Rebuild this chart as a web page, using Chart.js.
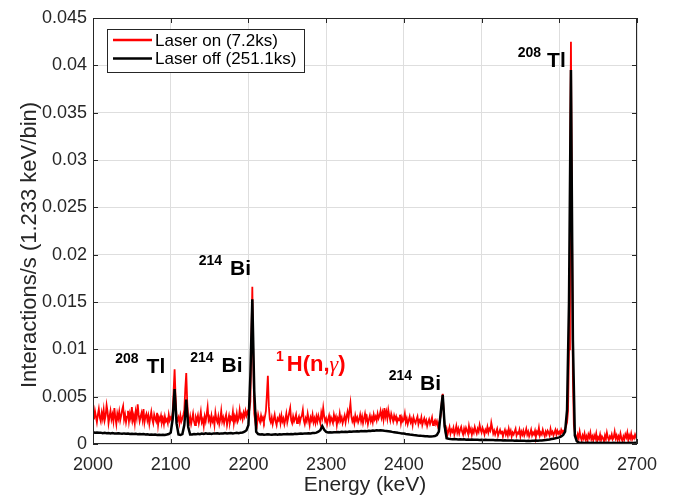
<!DOCTYPE html>
<html>
<head>
<meta charset="utf-8">
<script src="https://cdn.jsdelivr.net/npm/chart.js@4.4.1/dist/chart.umd.min.js"></script>
<style>
html,body{margin:0;padding:0;background:#ffffff;}
#wrap{width:673px;height:498px;position:relative;}
</style>
</head>
<body>
<div id="wrap"><canvas id="c" width="673" height="498"></canvas></div>
<script>
// ---------- DATA ----------
const energyStart = 2000;   // keV, first sample
const onStep = 1.25;        // keV between samples of the laser-on series
const offStep = 2.5;        // keV between samples of the laser-off series
const UNIT = 1e-3;          // series below are in units of 1e-3 interactions/s

const seriesLabels = ['Laser on (7.2ks)', 'Laser off (251.1ks)'];

// Laser on (red), x1e-3, 2000 .. 2700 keV every 1.25 keV
const laserOn = [
  // 2000 - 2101.25
  3.2, 2.6, 3.5, 2.9, 2.3, 3.1, 3.7, 2.8, 2.4, 3.3,
  2.7, 3.6, 2.5, 3.0, 4.1, 3.4, 2.2, 2.9, 3.5, 2.6,
  3.1, 2.4, 3.8, 2.8, 2.1, 3.2, 2.7, 3.4, 2.5, 3.0,
  3.6, 4.0, 2.6, 3.1, 2.3, 2.9, 3.5, 2.4, 3.2, 2.7,
  3.9, 2.5, 3.0, 2.2, 3.4, 2.8, 4.2, 3.1, 2.4, 2.9,
  3.3, 2.6, 3.7, 2.3, 2.9, 3.2, 2.5, 3.0, 2.1, 2.8,
  3.4, 2.6, 2.2, 3.1, 2.7, 2.4, 3.3, 2.0, 2.8, 2.5,
  3.0, 2.3, 2.7, 2.1, 2.9, 2.4, 2.6, 2.2, 3.1, 2.5,
  2.8, 2.6,
  // 2102.5 - 2107.5 (208Tl escape)
  3.4, 5.6, 7.9, 5.0, 2.9,
  // 2108.75 - 2116.25
  2.5, 2.8, 2.2, 3.0, 2.4, 2.7, 3.1,
  // 2117.5 - 2122.5 (214Bi)
  3.6, 5.8, 7.5, 4.4, 2.8,
  // 2123.75 - 2201.25
  2.3, 2.9, 2.1, 2.6, 3.2, 2.4, 2.0, 2.8, 2.5, 3.0,
  2.2, 2.7, 3.4, 2.3, 2.6, 1.9, 2.9, 2.4, 3.1, 3.9,
  2.5, 2.8, 2.2, 3.0, 2.4, 2.7, 2.0, 3.3, 2.6, 2.3,
  2.9, 2.1, 2.6, 3.5, 2.4, 2.8, 2.2, 2.7, 3.1, 2.0,
  2.5, 3.0, 2.3, 2.8, 2.6, 3.4, 2.2, 2.9, 2.5, 3.2,
  2.4, 2.7, 3.6, 2.8, 3.1, 2.6, 3.3, 2.9, 3.5, 3.0,
  3.4, 3.1, 3.6,
  // 2202.5 - 2207.5 (214Bi)
  4.5, 10.5, 16.6, 9.0, 3.2,
  // 2208.75 - 2221.25
  2.4, 2.9, 2.2, 3.1, 2.6, 2.3, 3.0, 2.5, 2.8, 2.4, 2.9,
  // 2222.5 - 2227.5 (1H(n,g))
  3.5, 5.2, 7.2, 4.0, 2.6,
  // 2228.75 - 2446.25
  2.3, 2.8, 2.1, 2.6, 3.1, 2.4, 2.0, 2.7, 2.5, 2.9,
  2.2, 3.0, 2.4, 2.7, 2.1, 2.6, 3.2, 2.3, 2.8, 3.3,
  3.8, 2.5, 2.2, 2.9, 2.4, 2.7, 3.1, 2.2, 2.6, 2.9,
  2.3, 2.8, 3.0, 3.6, 2.5, 2.1, 2.7, 2.4, 3.2, 2.6,
  2.0, 2.8, 2.5, 3.1, 2.3, 2.7, 2.2, 2.9, 2.4, 3.0,
  2.6, 2.2, 3.3, 2.8, 3.8, 2.9, 2.4, 2.7, 2.1, 2.6,
  3.0, 2.3, 2.8, 2.5, 2.2, 3.1, 2.6, 2.9, 2.0, 2.7,
  2.4, 3.2, 2.5, 2.8, 2.2, 2.6, 3.0, 2.3, 2.9, 3.4,
  2.7, 3.5, 4.3, 2.9, 2.4, 2.7, 2.2, 3.0, 2.5, 2.8,
  2.3, 2.6, 3.1, 2.4, 2.9, 2.2, 2.7, 3.2, 2.5, 2.8,
  2.1, 2.6, 3.0, 2.4, 2.8, 2.3, 3.1, 2.6, 2.9, 2.5,
  3.2, 2.7, 3.0, 3.5, 2.8, 3.3, 2.6, 3.8, 2.9, 3.4,
  2.7, 3.6, 3.0, 2.5, 3.2, 2.8, 2.4, 3.0, 2.6, 2.9,
  2.3, 2.7, 2.5, 3.1, 2.2, 2.8, 2.4, 2.6, 3.2, 2.3,
  2.7, 2.1, 2.5, 2.9, 2.3, 2.6, 2.0, 2.8, 2.4, 2.2,
  2.6, 2.9, 2.1, 2.5, 2.3, 2.8, 2.0, 2.4, 2.7, 2.2,
  2.5, 1.9, 2.3, 2.6, 2.1, 2.4, 2.8, 2.0, 2.3, 2.5,
  2.1, 2.4, 1.9, 2.2, 2.5,
  // 2447.5 - 2452.5 (214Bi)
  3.0, 4.4, 5.3, 3.4, 1.8,
  // 2453.75 - 2610
  1.2, 1.6, 1.0, 1.4, 1.8, 1.1, 1.5, 1.3, 1.7, 1.0,
  1.4, 1.9, 1.2, 1.6, 1.1, 1.5, 1.8, 1.3, 1.0, 1.6,
  1.2, 1.7, 1.4, 1.1, 1.9, 1.3, 1.6, 1.0, 1.5, 1.2,
  1.8, 1.4, 1.1, 1.6, 1.3, 2.0, 1.5, 1.2, 1.7, 1.4,
  1.0, 1.5, 1.3, 1.8, 1.2, 1.6, 1.4, 2.25, 1.7, 1.1,
  1.4, 1.0, 1.3, 1.6, 0.9, 1.2, 1.5, 1.1, 1.4, 0.8,
  1.2, 1.5, 1.0, 1.3, 0.9, 1.6, 1.1, 1.4, 0.8, 1.2,
  1.0, 1.3, 1.6, 0.9, 1.2, 1.1, 1.5, 0.8, 1.3, 1.0,
  1.4, 0.9, 1.2, 1.6, 1.0, 1.3, 0.8, 1.1, 1.5, 0.9,
  1.2, 1.0, 1.4, 0.8, 1.3, 1.1, 1.7, 0.9, 1.2, 1.0,
  1.5, 1.1, 0.8, 1.3, 1.0, 1.4, 1.2, 0.9, 1.6, 1.1,
  1.3, 0.9, 1.2, 1.5, 1.0, 1.4, 1.1, 1.3, 1.0, 1.5,
  1.2, 1.4, 1.3, 1.6, 1.9, 2.3,
  // 2611.25 - 2618.75 (208Tl)
  3.5, 10.0, 28.0, 42.5, 25.0, 7.0, 2.0,
  // 2620 - 2700
  1.2, 0.8, 0.5, 1.0, 0.6, 1.3, 0.7, 0.4, 0.9, 0.6,
  1.1, 0.5, 0.8, 0.3, 1.0, 0.7, 1.2, 0.5, 0.8, 0.4,
  0.9, 0.6, 1.1, 0.3, 0.7, 0.5, 1.0, 0.4, 0.8, 0.6,
  0.3, 0.9, 0.5, 1.2, 0.7, 0.4, 0.8, 0.6, 1.0, 0.5,
  0.7, 1.3, 0.6, 0.9, 0.4, 0.8, 0.5, 1.1, 0.6, 0.3,
  0.8, 0.5, 1.0, 0.7, 1.2, 0.4, 0.9, 0.6, 1.1, 0.5,
  0.8, 0.6, 1.0, 0.7, 0.9
];

// Laser off (black), x1e-3, 2000 .. 2700 keV every 2.5 keV
const laserOff = [
  1.25, 1.2, 1.22, 1.18, 1.2, 1.15, 1.18, 1.14, 1.16, 1.12,
  1.15, 1.12, 1.1, 1.13, 1.1, 1.08, 1.12, 1.09, 1.1, 1.06,
  1.08, 1.05, 1.07, 1.04, 1.06, 1.02, 1.05, 1.0, 1.03, 0.98,
  1.0, 0.97, 1.0, 0.96, 0.98, 0.95, 0.98, 0.96, 1.0, 1.05, 1.2,
  2.6, 5.8, 2.2, 1.0, 0.95, 1.05, 2.0, 4.7, 1.8, 1.0,
  1.0, 1.05, 1.02, 1.08, 1.04, 1.1, 1.06, 1.12, 1.08, 1.1,
  1.06, 1.12, 1.1, 1.14, 1.08, 1.12, 1.1, 1.15, 1.1, 1.13,
  1.16, 1.12, 1.15, 1.18, 1.14, 1.2, 1.22, 1.3, 1.45,
  2.0, 7.2, 15.3, 5.6, 1.3,
  1.05, 1.0, 1.02, 0.98, 1.0, 1.03, 1.0, 0.98,
  1.0, 1.02, 0.99, 1.03, 1.01, 1.04, 1.02, 1.05, 1.03, 1.06,
  1.04, 1.07, 1.05, 1.08, 1.1, 1.08, 1.12, 1.1, 1.14, 1.12,
  1.16, 1.15, 1.2, 1.3, 1.45, 1.9, 1.5, 1.28, 1.22, 1.24,
  1.22, 1.25, 1.23, 1.26, 1.24, 1.28, 1.26, 1.3, 1.27, 1.32,
  1.3, 1.33, 1.31, 1.35, 1.33, 1.36, 1.34, 1.38, 1.36, 1.4,
  1.38, 1.42, 1.4, 1.44, 1.42, 1.45, 1.43, 1.4, 1.38, 1.35,
  1.32, 1.28, 1.25, 1.22, 1.18, 1.15, 1.12, 1.1, 1.06, 1.04,
  1.0, 0.98, 0.95, 0.93, 0.9, 0.88, 0.86, 0.85, 0.83, 0.82,
  0.8, 0.8, 0.82, 0.85, 0.95, 1.3,
  3.4, 5.2, 1.9,
  0.6, 0.55, 0.52, 0.5, 0.52, 0.5, 0.48, 0.5, 0.47, 0.49,
  0.46, 0.48, 0.45, 0.47, 0.44, 0.46, 0.45, 0.43, 0.45, 0.42,
  0.44, 0.42, 0.43, 0.41, 0.42, 0.4, 0.41, 0.39, 0.4, 0.38,
  0.39, 0.37, 0.38, 0.36, 0.37, 0.35, 0.36, 0.34, 0.35, 0.34,
  0.35, 0.33, 0.34, 0.33, 0.35, 0.34, 0.36, 0.35, 0.37, 0.38,
  0.4, 0.42, 0.45, 0.48, 0.52, 0.56, 0.6, 0.65,
  0.7, 0.8, 0.95, 1.3, 3.6, 15.0, 39.5, 11.0, 0.9, 0.3,
  0.15, 0.12, 0.14, 0.11, 0.13, 0.12, 0.1, 0.13, 0.11, 0.12,
  0.1, 0.12, 0.11, 0.13, 0.1, 0.12, 0.11, 0.1, 0.12, 0.11,
  0.1, 0.12, 0.11, 0.13, 0.1, 0.11, 0.12, 0.1, 0.11, 0.12, 0.1
];

const xTickValues = [2000, 2100, 2200, 2300, 2400, 2500, 2600, 2700];
const xTickLabels = ['2000', '2100', '2200', '2300', '2400', '2500', '2600', '2700'];
const yTickValues = [0, 0.005, 0.01, 0.015, 0.02, 0.025, 0.03, 0.035, 0.04, 0.045];
const yTickLabels = ['0', '0.005', '0.01', '0.015', '0.02', '0.025', '0.03', '0.035', '0.04', '0.045'];

const xTitle = 'Energy (keV)';
const yTitle = 'Interactions/s (1.233 keV/bin)';

// peak labels: superscript, main text, anchor (energy keV, value) of main text left baseline
const peakLabels = [
  { sup: '208', parts: ['Tl'], e: 2069, v: 0.00750, color: '#000000', supGap: 8, size: 21 },
  { sup: '214', parts: ['Bi'], e: 2165.5, v: 0.00761, color: '#000000', supGap: 8, size: 21 },
  { sup: '214', parts: ['Bi'], e: 2176.3, v: 0.01785, color: '#000000', supGap: 8, size: 21 },
  { sup: '1', parts: ['H(n,', 'γ', ')'], e: 2249.3, v: 0.00774, color: '#ff0000', supGap: 3, size: 22 },
  { sup: '214', parts: ['Bi'], e: 2420.8, v: 0.00570, color: '#000000', supGap: 8, size: 21 },
  { sup: '208', parts: ['Tl'], e: 2584.3, v: 0.03980, color: '#000000', supGap: 6, size: 21 }
];

// ---------- BUILD ----------
const toPoints = (arr, step) => arr.map((v, i) => ({ x: energyStart + i * step, y: v * UNIT }));

const FONT = '"Liberation Sans", Arial, Helvetica, sans-serif';
const TXT = '#262626';

const overlay = {
  id: 'overlay',
  afterDraw(chart) {
    const { ctx, chartArea: ca, scales } = chart;
    const xs = scales.x, ys = scales.y;
    ctx.save();
    // inner tick marks on all four sides
    ctx.strokeStyle = TXT;
    ctx.lineWidth = 1;
    const tl = 5;
    ctx.beginPath();
    xTickValues.forEach(v => {
      const px = Math.round(xs.getPixelForValue(v)) + 0.5;
      ctx.moveTo(px, ca.bottom); ctx.lineTo(px, ca.bottom - tl);
      ctx.moveTo(px, ca.top); ctx.lineTo(px, ca.top + tl);
    });
    yTickValues.forEach(v => {
      const py = Math.round(ys.getPixelForValue(v)) + 0.5;
      ctx.moveTo(ca.left, py); ctx.lineTo(ca.left + tl, py);
      ctx.moveTo(ca.right, py); ctx.lineTo(ca.right - tl, py);
    });
    ctx.stroke();
    // axes box
    ctx.strokeRect(Math.round(ca.left) + 0.5, Math.round(ca.top) + 0.5,
                   Math.round(ca.right - ca.left) - 1, Math.round(ca.bottom - ca.top) - 1);

    // y axis title (rotated)
    ctx.save();
    ctx.translate(30, (ca.top + ca.bottom) / 2 + 14);
    ctx.rotate(-Math.PI / 2);
    ctx.fillStyle = TXT;
    ctx.font = '22px ' + FONT;
    ctx.textAlign = 'center';
    ctx.textBaseline = 'middle';
    ctx.fillText(yTitle, 0, 0);
    ctx.restore();

    // peak labels
    peakLabels.forEach(p => {
      const px = xs.getPixelForValue(p.e);
      const py = ys.getPixelForValue(p.v);
      ctx.fillStyle = p.color;
      ctx.textBaseline = 'alphabetic';
      let x = px;
      ctx.textAlign = 'left';
      p.parts.forEach(t => {
        ctx.font = (t === 'γ') ? 'italic ' + p.size + 'px "Liberation Serif", serif' : 'bold ' + p.size + 'px ' + FONT;
        ctx.fillText(t, x, py);
        x += ctx.measureText(t).width;
      });
      ctx.font = 'bold 14px ' + FONT;
      ctx.textAlign = 'right';
      ctx.fillText(p.sup, px - p.supGap, py - 10);
    });

    // legend box
    const lx = 107, ly = 29, lw = 197, lh = 43;
    ctx.fillStyle = '#ffffff';
    ctx.fillRect(lx, ly, lw, lh);
    ctx.strokeStyle = TXT;
    ctx.lineWidth = 1;
    ctx.strokeRect(lx + 0.5, ly + 0.5, lw, lh);
    const ds = chart.data.datasets;
    const rows = [40, 58.5];
    ds.forEach((d, i) => {
      ctx.strokeStyle = d.borderColor;
      ctx.lineWidth = 2.5;
      ctx.beginPath();
      ctx.moveTo(113, rows[i]); ctx.lineTo(152, rows[i]);
      ctx.stroke();
      ctx.fillStyle = '#000000';
      ctx.font = '17px ' + FONT;
      ctx.textAlign = 'left';
      ctx.textBaseline = 'middle';
      ctx.fillText(d.label, 155, rows[i] + 1);
    });
    ctx.restore();
  }
};

new Chart(document.getElementById('c'), {
  type: 'line',
  data: {
    datasets: [
      { label: seriesLabels[0], data: toPoints(laserOn, onStep), borderColor: '#ff0000', borderWidth: 1.8,
        pointRadius: 0, tension: 0, fill: false, order: 1 },
      { label: seriesLabels[1], data: toPoints(laserOff, offStep), borderColor: '#000000', borderWidth: 2.5,
        pointRadius: 0, tension: 0, fill: false, order: 0 }
    ]
  },
  options: {
    responsive: false,
    animation: false,
    devicePixelRatio: 1,
    layout: { padding: { left: 0, right: 36, top: 18, bottom: 0 } },
    plugins: { legend: { display: false }, tooltip: { enabled: false } },
    scales: {
      x: {
        type: 'linear', min: 2000, max: 2700,
        afterBuildTicks: s => { s.ticks = xTickValues.map(v => ({ value: v })); },
        afterFit: s => { s.height = 54; },
        grid: { color: '#dedede', drawTicks: false },
        border: { display: false },
        ticks: { autoSkip: false, maxRotation: 0, padding: 10, color: TXT,
                 font: { family: FONT, size: 18 },
                 callback: (v, i) => xTickLabels[i] },
        title: { display: true, text: xTitle, color: TXT, font: { family: FONT, size: 21 },
                 padding: { top: 0, bottom: 0 } }
      },
      y: {
        type: 'linear', min: 0, max: 0.045,
        afterBuildTicks: s => { s.ticks = yTickValues.map(v => ({ value: v })); },
        afterFit: s => { s.width = 93; },
        grid: { color: '#dedede', drawTicks: false },
        border: { display: false },
        ticks: { padding: 6, color: TXT, font: { family: FONT, size: 18 },
                 callback: (v, i) => yTickLabels[i] },
        title: { display: false, text: yTitle }
      }
    }
  },
  plugins: [overlay]
});
</script>
</body>
</html>
